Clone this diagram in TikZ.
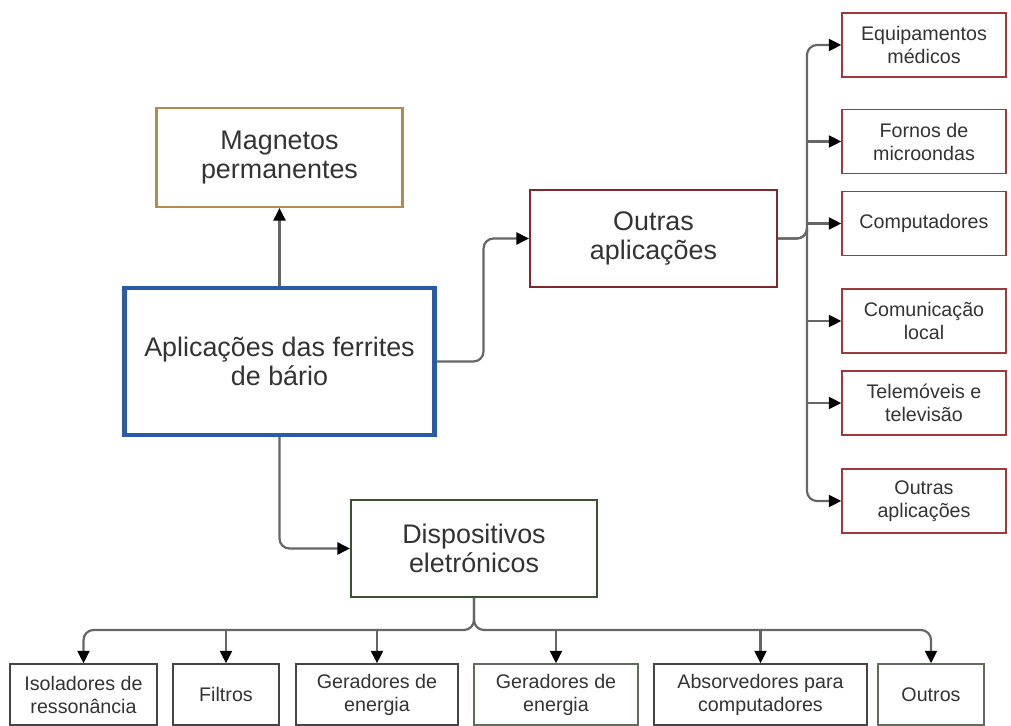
\documentclass[tikz,border=0pt]{standalone}
\usepackage{fontspec}
\setmainfont{Liberation Sans}
\usetikzlibrary{arrows.meta}
\definecolor{magnetgold}{HTML}{B08D4E}
\definecolor{mainblue}{HTML}{2B5BA8}
\definecolor{otherred}{HTML}{7F2A2A}
\definecolor{leafred}{HTML}{A03A3A}
\definecolor{devgreen}{HTML}{3B5230}
\definecolor{leafgreen}{HTML}{5F6E58}
\definecolor{leafgray}{HTML}{454545}
\definecolor{textgray}{HTML}{333333}
\definecolor{linegray}{HTML}{666666}
\tikzstyle{box}=[rectangle,draw,align=center,inner sep=0pt,text=textgray]
\tikzstyle{bigbox}=[box,line width=1.2pt,font=\fontsize{15.3}{16.8}\selectfont]
\tikzstyle{smallbox}=[box,line width=0.8pt,font=\fontsize{11.2}{13.1}\selectfont]
\tikzstyle{edge}=[draw,line width=1.25pt,linegray,rounded corners=0.2cm,-{Triangle[length=0.25cm,width=0.24cm,color=black]}]

\begin{document}
\begin{tikzpicture}[x=0.02cm,y=-0.02cm]
  \useasboundingbox (0,0) rectangle (1011,726);

  % main boxes
  \node[bigbox,draw=mainblue,line width=2.3pt,minimum width=310*0.02cm,minimum height=147*0.02cm]
     (main) at (279.5,361.5) {Aplicações das ferrites\\de bário};
  \foreach \pos/\name/\col/\w/\h/\txt in {{(279.5,157.5)/magnet/magnetgold/246/99/{Magnetos\\permanentes}},
       {(653.5,238.5)/outras/otherred/247/97/{Outras\\aplicações}},
       {(474,548.5)/disp/devgreen/246/97/{Dispositivos\\eletrónicos}}}
     \node[bigbox,draw=\col,minimum width=\w*0.02cm,minimum height=\h*0.02cm] (\name) at \pos {\txt};

  % right column
  \foreach \pos/\name/\txt in {{(924,45)/rA/{Equipamentos\\médicos}}, {(924,141.5)/rB/{Fornos de\\microondas}},
       {(924,223.5)/rC/{Computadores}}, {(924,321)/rD/{Comunicação\\local}},
       {(924,403)/rE/{Telemóveis e\\televisão}}, {(924,501)/rF/{Outras\\aplicações}}}
     \node[smallbox,draw=leafred,minimum width=164*0.02cm,minimum height=64*0.02cm] (\name) at \pos {\txt};

  % bottom row
  \foreach \pos/\name/\col/\w/\txt in {{(83.5,694.5)/bA/leafgray/147/{Isoladores de\\ressonância}},
       {(226,694.5)/bB/leafgray/106/{Filtros}}, {(377,694.5)/bC/leafgray/162/{Geradores de\\energia}},
       {(556,694.5)/bD/leafgreen/164/{Geradores de\\energia}}, {(760.5,694.5)/bE/leafgray/213/{Absorvedores para\\computadores}},
       {(931,694.5)/bF/leafgreen/106/{Outros}}}
     \node[smallbox,draw=\col,minimum width=\w*0.02cm,minimum height=61*0.02cm] (\name) at \pos {\txt};

  \coordinate (rtrunk) at (807,238.5);
  \coordinate (btrunk) at (474,630);

  % connectors from main
  \path[edge] (main) -- (magnet);
  \path[edge] (main.east) -- ++(47,0) |- (outras.west);
  \path[edge] (main.south) |- (disp.west);

  % right branch
  \path[edge] (outras.east) -| (rtrunk) |- (rA.west);
  \path[edge] (outras.east) -| (rtrunk) |- (rF.west);
  \foreach \dest in {rB,rC,rD,rE}
     \path[edge] (rtrunk |- \dest.west) -- (\dest.west);

  % bottom branch
  \path[edge] (disp.south) |- (btrunk) -| (bA.north);
  \path[edge] (disp.south) |- (btrunk) -| (bF.north);
  \foreach \dest in {bB,bC,bD,bE}
     \path[edge] (btrunk -| \dest.north) -- (\dest.north);
\end{tikzpicture}
\end{document}
